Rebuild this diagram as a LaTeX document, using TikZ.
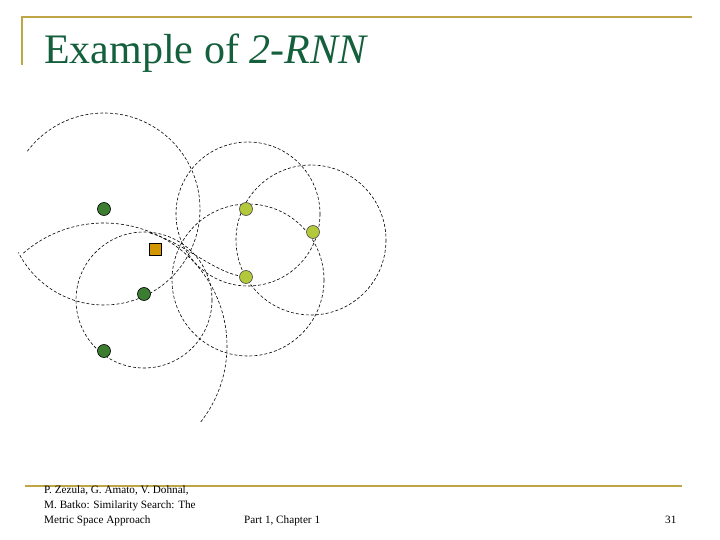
\documentclass[tikz,border=0pt]{standalone}
\usepackage{fontspec}
\setmainfont{Liberation Serif}
\begin{document}
\begin{tikzpicture}[x=1pt,y=-1pt,
  circ/.style={draw=black,dash pattern=on 3pt off 2pt,line width=0.6pt},
  dk/.style={circle,draw=black,fill=dkgreen,minimum size=13pt,inner sep=0pt,line width=0.6pt},
  lt/.style={circle,draw=black!70,fill=ltgreen,minimum size=13pt,inner sep=0pt,line width=0.6pt},
  sq/.style={rectangle,draw=black,fill=sqcol,minimum size=12pt,inner sep=0pt,line width=0.6pt},
  rule/.style={draw=gold,line width=2pt},
  foot/.style={font=\fontsize{11.2}{12}\selectfont,anchor=base west,inner sep=0pt}]
\definecolor{dkgreen}{RGB}{60,125,50}
\definecolor{ltgreen}{RGB}{180,200,60}
\definecolor{sqcol}{RGB}{210,150,0}
\definecolor{gold}{RGB}{190,165,70}
\definecolor{titlecol}{RGB}{20,95,60}
\useasboundingbox (0,0) rectangle (720,540);
\fill[white] (0,0) rectangle (720,540);
% header rules
\coordinate (h1) at (22,17); \coordinate (h2) at (692,17); \coordinate (h3) at (22,65);
\draw[rule] (h3) -- (h1) -- (h2);
\node[anchor=base west,inner sep=0pt,text=titlecol,font=\fontsize{42}{46}\selectfont] (title) at (44,64) {Example of \textit{2-RNN}};
% footer rule
\coordinate (f1) at (25,486); \coordinate (f2) at (682,486);
\draw[draw=gold,line width=1.5pt] (f1) -- (f2);
\node[foot] (fa) at (44,493) {P. Zezula, G. Amato, V. Dohnal,};
\node[foot] (fb) at (44,508) {M. Batko: Similarity Search: The};
\node[foot] (fc) at (44,523) {Metric Space Approach};
\node[foot] (fd) at (244,523) {Part 1, Chapter 1};
\node[foot] (fe) at (665,523) {31};
% circles
\draw[circ] (104,209) ++(-143:96) arc[start angle=-143,end angle=153,radius=96];
\draw[circ] (104,346) ++(-131:123) arc[start angle=-131,end angle=39,radius=123];
\draw[circ] (144,300) circle[radius=68];
\draw[circ] (248,214) circle[radius=72];
\draw[circ] (311,240) circle[radius=75];
\draw[circ] (248,280) circle[radius=76];
\draw[circ] (150,233) .. controls (185,243) and (215,274) .. (246,277);
% points
\node[dk] (p1) at (104,209) {};
\node[dk] (p2) at (144,294) {};
\node[dk] (p3) at (104,351) {};
\node[sq] (q) at (155,249) {};
\node[lt] (l1) at (246,209) {};
\node[lt] (l2) at (313,232) {};
\node[lt] (l3) at (246,277) {};
\end{tikzpicture}
\end{document}
